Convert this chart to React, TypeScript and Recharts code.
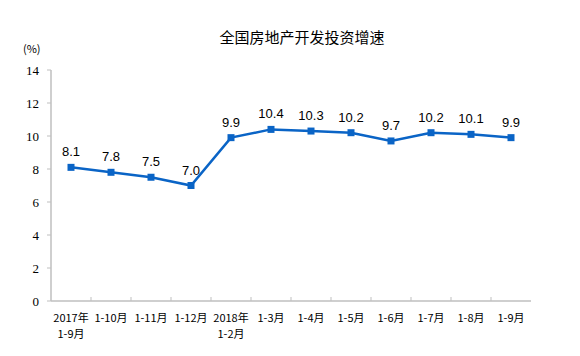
import React from 'react';
import { LineChart, Line, XAxis, YAxis, LabelList } from 'recharts';

const categories = [
  '2017年\n1-9月', '1-10月', '1-11月', '1-12月', '2018年\n1-2月', '1-3月',
  '1-4月', '1-5月', '1-6月', '1-7月', '1-8月', '1-9月',
];
const growth = [8.1, 7.8, 7.5, 7.0, 9.9, 10.4, 10.3, 10.2, 9.7, 10.2, 10.1, 9.9];
const yTicks = [0, 2, 4, 6, 8, 10, 12, 14];

const data = categories.map((name, i) => ({ name, value: growth[i] }));

const W = 580;
const H = 356;
const PLOT_LEFT = 51;
const PLOT_RIGHT = 531;
const axisColor = '#bfbfbf';
const lineColor = '#0a64c6';
const band = (PLOT_RIGHT - PLOT_LEFT) / categories.length;

const XTick = (props: any) => {
  const { x, y, payload, index } = props;
  const lines = String(payload.value).split('\n');
  return (
    <g>
      {/* tick mark at the band boundary, pointing into the plot */}
      {index < categories.length - 1 && (
        <line x1={x + band / 2} x2={x + band / 2} y1={y} y2={y - 4} stroke={axisColor} strokeWidth={1} />
      )}
      <text
        x={x}
        y={y + 21}
        textAnchor="middle"
        fontSize={11}
        fontFamily="'Noto Sans CJK SC', sans-serif"
        fill="#000"
      >
        {lines.map((l, i) => (
          <tspan key={i} x={x} dy={i === 0 ? 0 : 16}>
            {l}
          </tspan>
        ))}
      </text>
    </g>
  );
};

export default function App() {
  return (
    <div style={{ position: 'absolute', left: 0, top: 0, width: W, height: H, background: '#fff' }}>
      <div
        style={{
          position: 'absolute',
          left: 0,
          width: 604,
          top: 27,
          textAlign: 'center',
          fontSize: 15,
          fontFamily: "'Noto Sans CJK SC', sans-serif",
          color: '#000',
          lineHeight: '20px',
        }}
      >
        全国房地产开发投资增速
      </div>
      <div
        style={{
          position: 'absolute',
          left: 23,
          top: 41,
          fontSize: 11,
          fontFamily: "'Noto Sans CJK SC', sans-serif",
          color: '#000',
          lineHeight: '14px',
        }}
      >
        (%)
      </div>
      <LineChart
        width={W}
        height={H}
        data={data}
        margin={{ top: 70, right: W - PLOT_RIGHT, bottom: 0, left: 0 }}
      >
        <XAxis
          dataKey="name"
          scale="band"
          interval={0}
          height={55}
          tickSize={0}
          tickMargin={0}
          tickLine={false}
          axisLine={{ stroke: axisColor, strokeWidth: 1.5 }}
          tick={<XTick />}
        />
        <XAxis
          xAxisId="top"
          orientation="top"
          dataKey="name"
          height={0}
          tick={false}
          tickLine={false}
          axisLine={{ stroke: axisColor, strokeWidth: 1.5 }}
        />
        <YAxis
          domain={[0, 14]}
          ticks={yTicks}
          width={PLOT_LEFT}
          tickSize={4}
          tickMargin={8}
          interval={0}
          tickLine={{ stroke: axisColor }}
          axisLine={{ stroke: axisColor, strokeWidth: 1.5 }}
          tick={{ fontSize: 13, fontFamily: "'Liberation Serif', serif", fill: '#000' }}
        />
        <YAxis
          yAxisId="right"
          orientation="right"
          domain={[0, 14]}
          width={0}
          tick={false}
          tickLine={false}
          axisLine={{ stroke: axisColor, strokeWidth: 1.5 }}
        />
        <Line
          type="linear"
          dataKey="value"
          stroke={lineColor}
          strokeWidth={2.5}
          isAnimationActive={false}
          dot={(p: any) => (
            <rect key={p.index} x={p.cx - 3.5} y={p.cy - 3.5} width={7} height={7} fill={lineColor} />
          )}
          activeDot={false}
        >
          <LabelList
            dataKey="value"
            position="top"
            offset={11}
            formatter={(v: any) => Number(v).toFixed(1)}
            style={{ fontSize: 13, fontFamily: "'Liberation Sans', Arial, sans-serif", fill: '#000' }}
          />
        </Line>
      </LineChart>
    </div>
  );
}
